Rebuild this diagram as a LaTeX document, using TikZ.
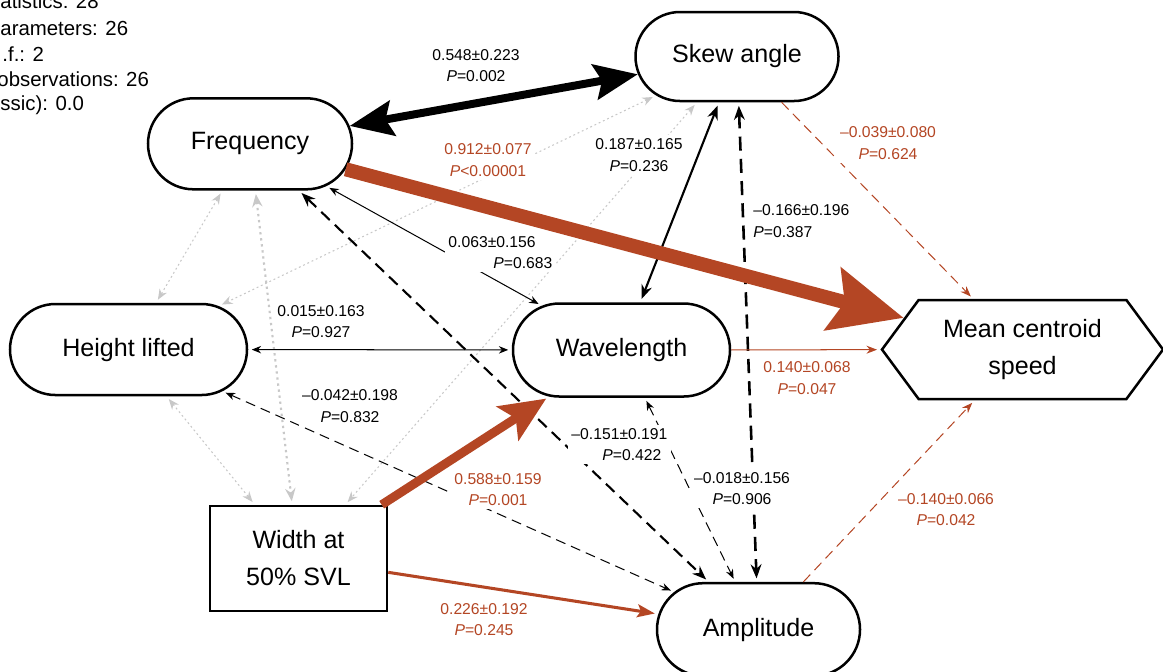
\documentclass[tikz,border=0pt]{standalone}
\usepackage{fontspec}
\setmainfont{Liberation Sans}
\usetikzlibrary{arrows.meta,shapes.misc,shapes.symbols}
\definecolor{rust}{RGB}{180,70,36}
\definecolor{faint}{RGB}{200,200,200}
\begin{document}
\begin{tikzpicture}[scale=0.15,
  var/.style={draw,line width=1.07pt,shape=rounded rectangle,minimum height=1.365cm,font=\fontsize{10.7}{15.8}\selectfont,align=center},
  coef/.style={fill=white,inner sep=1.5pt,align=center,font=\fontsize{6.7}{9.2}\selectfont},
  fitstat/.style={anchor=base west,font=\fontsize{8.7}{11}\selectfont},
  cov/.style={line width=0.43pt,<->,>={Stealth[length=4pt,width=3.2pt]},shorten <=1.5pt,shorten >=1.5pt},
  covd/.style={cov,dash pattern=on 4.3pt off 2.6pt},
  covthick/.style={line width=0.9pt,<->,>={Stealth[length=6pt,width=4.6pt]},shorten <=1.5pt,shorten >=1.5pt},
  covthickd/.style={covthick,dash pattern=on 5pt off 3pt},
  faintcov/.style={draw=faint,line width=0.45pt,dash pattern=on 0.8pt off 1.2pt,<->,>={Stealth[length=4.5pt,width=3.6pt]},shorten <=1.5pt,shorten >=1.5pt},
  eff/.style={draw=rust,line width=0.43pt,->,>={Stealth[length=4.5pt,width=3.4pt]},shorten >=1.5pt},
  effd/.style={eff,dash pattern=on 4.3pt off 2.6pt}]
\tikzstyle{every node}+=[inner sep=0pt]
\useasboundingbox (0,0) rectangle (116.3,-67.1);
% fit statistics (cut at the left edge)
\node[fitstat] (fitstat1) at (0,-0.8) {atistics: 28};
\node[fitstat] (fitstat2) at (0,-3.5) {arameters: 26};
\node[fitstat] (fitstat3) at (0.2,-6.1) {.f.: 2};
\node[fitstat] (fitstat4) at (-0.3,-8.6) {observations: 26};
\node[fitstat] (fitstat5) at (0,-11.0) {ssic): 0.0};
% variables
\node[var,minimum width=3.045cm,minimum height=1.335cm] (skew) at (73.7,-5.65) {Skew angle};
\node[var,minimum width=3.06cm] (freq) at (25.0,-14.38) {Frequency};
\node[var,minimum width=3.555cm] (height) at (12.85,-34.95) {Height lifted};
\node[var,minimum width=3.255cm,minimum height=1.395cm] (wave) at (62.15,-35.0) {Wavelength};
\node[var,minimum width=3.045cm,minimum height=1.39cm] (amp) at (75.85,-62.95) {Amplitude};
\node[draw,line width=1.07pt,minimum width=2.655cm,minimum height=1.575cm,align=center,font=\fontsize{10.7}{15.8}\selectfont] (width) at (29.85,-55.85) {Width at\\50\% SVL};
\node[draw,line width=1.07pt,shape=signal,signal to=east and west,signal pointer angle=107,minimum width=4.215cm,minimum height=1.485cm,align=center,font=\fontsize{10.7}{15.8}\selectfont] (mcs) at (102.25,-34.95) {Mean centroid\\speed};
% grey covariances
\draw[faintcov] (freq) -- (height);
\draw[faintcov,line width=0.9pt,dash pattern=on 1pt off 1.6pt,>={Stealth[length=5.5pt,width=4.4pt]}] (freq) -- (width);
\draw[faintcov] (height) -- (width);
\draw[faintcov] (skew) -- (height);
\draw[faintcov] (skew) -- (width);
% covariances
\draw[cov,line width=3.4pt,shorten <=0pt,shorten >=0pt,>={Stealth[length=18.5pt,width=15pt,inset=3pt]}] (freq) -- (skew);
\draw[covthick] (skew) -- (wave);
\draw[covthickd,line width=1.1pt,dash pattern=on 6pt off 3.5pt] (skew) -- (amp);
\draw[cov] (freq) -- (wave);
\draw[covthickd] (freq) -- (amp);
\draw[cov] (height) -- (wave);
\draw[covd] (height) -- (amp);
\draw[covd] (wave) -- (amp);
% paths to the outcome
\draw[eff,line width=6pt,shorten >=0pt,>={Stealth[length=31pt,width=27pt,inset=5pt]}] (freq) -- (mcs);
\draw[effd] (skew) -- (mcs);
\draw[eff] (wave) -- (mcs);
\draw[effd] (amp) -- (mcs);
\draw[eff,line width=3.8pt,>={Stealth[length=19.5pt,width=17pt,inset=4pt]}] (width) -- (wave);
\draw[eff,line width=1.3pt,>={Stealth[length=7.5pt,width=5.5pt,inset=1.5pt]}] (width) -- (amp);
% estimates
\node[coef] (cFS) at (47.6,-6.55) {0.548±0.223\\\textit{P}=0.002};
\node[coef,text=rust] (cFM) at (48.8,-16.0) {0.912±0.077\\\textit{P}<0.00001};
\node[coef] (cSW) at (63.9,-15.5) {0.187±0.165\\\textit{P}=0.236};
\node[coef,anchor=west,align=left] (cSA) at (74.95,-22.1) {–0.166±0.196\\\textit{P}=0.387};
\node[coef,text=rust] (cSM) at (88.8,-14.3) {–0.039±0.080\\\textit{P}=0.624};
\node[coef,anchor=west,align=left] (cFW) at (44.45,-25.25) {0.063±0.156\\\hspace*{19.2pt}\textit{P}=0.683};
\node[coef] (cHW) at (32.1,-32.15) {0.015±0.163\\\textit{P}=0.927};
\node[coef] (cHA) at (35.0,-40.6) {–0.042±0.198\\\textit{P}=0.832};
\node[coef,text=rust] (cWM) at (80.7,-37.8) {0.140±0.068\\\textit{P}=0.047};
\node[coef,anchor=west,align=left] (cFA) at (56.75,-44.45) {–0.151±0.191\\\hspace*{13.2pt}\textit{P}=0.422};
\node[coef] (cWA) at (74.2,-48.85) {–0.018±0.156\\\textit{P}=0.906};
\node[coef,text=rust] (cXW) at (49.8,-48.95) {0.588±0.159\\\textit{P}=0.001};
\node[coef,text=rust] (cXA) at (48.4,-61.95) {0.226±0.192\\\textit{P}=0.245};
\node[coef,text=rust] (cAM) at (94.6,-50.95) {–0.140±0.066\\\textit{P}=0.042};
\end{tikzpicture}
\end{document}
